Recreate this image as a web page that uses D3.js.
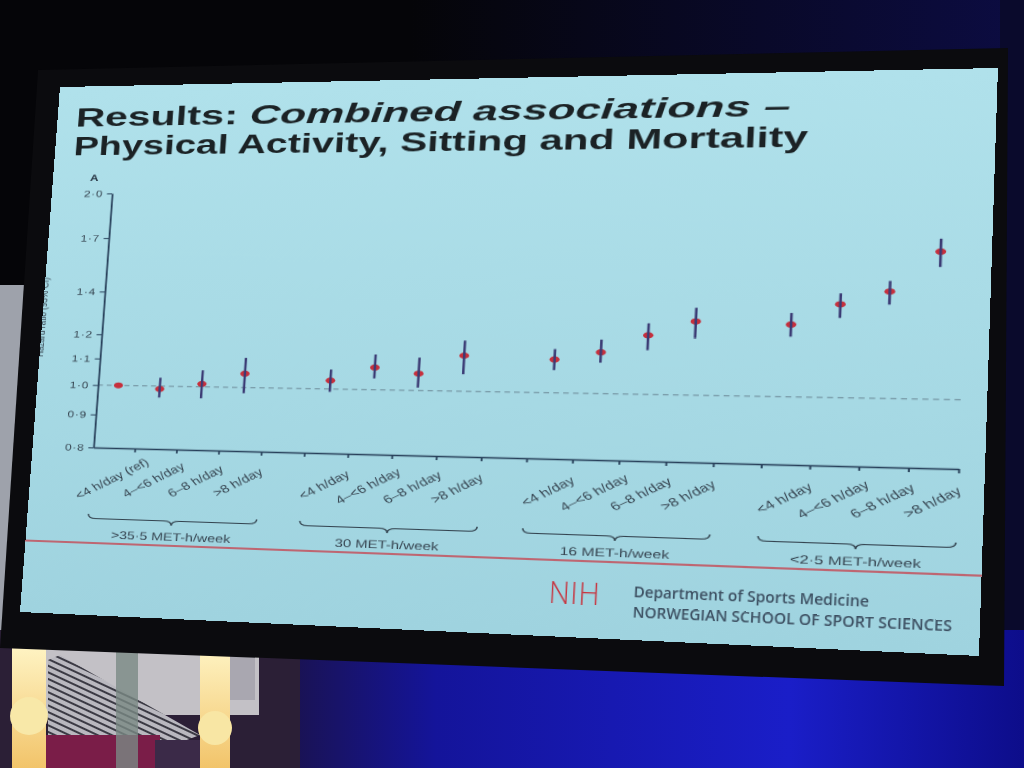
<!DOCTYPE html>
<html>
<head>
<meta charset="utf-8">
<script src="https://cdn.jsdelivr.net/npm/d3@7"></script>
<style>
  body { margin: 0; width: 1024px; height: 768px; overflow: hidden; background: #050508; position: relative; }
  #bg { position: absolute; left: 0; top: 0; }
  #slide { position: absolute; left: 0; top: 0; width: 960px; height: 540px; transform-origin: 0 0; overflow: hidden; }
</style>
</head>
<body>
<svg id="bg" width="1024" height="768"></svg>
<div id="slide"></div>
<script>
// values (hazard ratio and 95% CI)
var groupLabels = ['>35·5 MET-h/week', '30 MET-h/week', '16 MET-h/week', '<2·5 MET-h/week']
var sittingLabels = [
  '<4 h/day (ref)', '4–<6 h/day', '6–8 h/day', '>8 h/day',
  '<4 h/day', '4–<6 h/day', '6–8 h/day', '>8 h/day',
  '<4 h/day', '4–<6 h/day', '6–8 h/day', '>8 h/day',
  '<4 h/day', '4–<6 h/day', '6–8 h/day', '>8 h/day'
]
var hr     = [1.00, 0.99, 1.01, 1.05, 1.03, 1.08, 1.06, 1.13, 1.12, 1.15, 1.22, 1.28, 1.27, 1.36, 1.42, 1.62]
var ciLow  = [1.00, 0.96, 0.96, 0.98, 0.99, 1.04, 1.01, 1.06, 1.08, 1.11, 1.16, 1.21, 1.22, 1.30, 1.36, 1.54]
var ciHigh = [1.00, 1.03, 1.06, 1.11, 1.07, 1.13, 1.12, 1.19, 1.16, 1.20, 1.27, 1.34, 1.32, 1.41, 1.47, 1.69]
var yTicks = [0.8, 0.9, 1.0, 1.1, 1.2, 1.4, 1.7, 2.0]

// where the slide sits in the photo: TL, TR, BR, BL
var slideCorners = [[60, 87], [998, 68], [979, 656], [20, 612]]
var W = 960, H = 540
var SX = 1.4   // the chart picture on the slide is stretched sideways

var rows = hr.map(function(d, i){
  return {i: i, group: Math.floor(i / 4), label: sittingLabels[i], hr: d, lo: ciLow[i], hi: ciHigh[i]}
})

function slot(i){ return Math.floor(i / 4) * 5 + i % 4 }

function quadTransform(w, h, q){
  var x0 = q[0][0], y0 = q[0][1], x1 = q[1][0], y1 = q[1][1]
  var x2 = q[2][0], y2 = q[2][1], x3 = q[3][0], y3 = q[3][1]
  var dx1 = x1 - x2, dx2 = x3 - x2, dx3 = x0 - x1 + x2 - x3
  var dy1 = y1 - y2, dy2 = y3 - y2, dy3 = y0 - y1 + y2 - y3
  var den = dx1 * dy2 - dx2 * dy1
  var g = (dx3 * dy2 - dx2 * dy3) / den
  var k = (dx1 * dy3 - dx3 * dy1) / den
  var a = x1 - x0 + g * x1, b = x3 - x0 + k * x3
  var d = y1 - y0 + g * y1, e = y3 - y0 + k * y3
  return 'matrix3d(' + [a / w, d / w, 0, g / w, b / h, e / h, 0, k / h, 0, 0, 1, 0, x0, y0, 0, 1].join(',') + ')'
}

// ---- room around the screen
!(function(){
  var bg = d3.select('#bg')
  var defs = bg.append('defs')

  var blue = defs.append('linearGradient').attr('id', 'stage')
  blue.append('stop').attr('offset', '0%').attr('stop-color', '#1c1238')
  blue.append('stop').attr('offset', '25%').attr('stop-color', '#14149a')
  blue.append('stop').attr('offset', '70%').attr('stop-color', '#1a1ec8')
  blue.append('stop').attr('offset', '100%').attr('stop-color', '#0d0d8a')

  var navy = defs.append('linearGradient').attr('id', 'navy')
  navy.append('stop').attr('offset', '40%').attr('stop-color', '#050508')
  navy.append('stop').attr('offset', '100%').attr('stop-color', '#0c0c42')

  var lamp = defs.append('linearGradient').attr('id', 'lamp').attr('x1', 0).attr('x2', 0).attr('y1', 0).attr('y2', 1)
  lamp.append('stop').attr('offset', '0%').attr('stop-color', '#fff6c8')
  lamp.append('stop').attr('offset', '100%').attr('stop-color', '#f2c46a')

  var hatch = defs.append('pattern').attr('id', 'hatch').attr('width', 6).attr('height', 6)
    .attr('patternUnits', 'userSpaceOnUse').attr('patternTransform', 'rotate(25)')
  hatch.append('rect').attr('width', 6).attr('height', 6).attr('fill', '#b9b8bf')
  hatch.append('rect').attr('width', 6).attr('height', 2).attr('fill', '#3b3a44')

  bg.append('rect').attr('width', 1024).attr('height', 80).attr('fill', 'url(#navy)')
  bg.append('rect').attr('x', 1000).attr('width', 24).attr('height', 700).attr('fill', '#0a0a2c')
  bg.append('rect').attr('x', 0).attr('y', 285).attr('width', 30).attr('height', 345).attr('fill', '#9ea2ab')

  bg.append('rect').attr('x', 240).attr('y', 630).attr('width', 784).attr('height', 138).attr('fill', 'url(#stage)')

  // stage set, bottom left
  bg.append('rect').attr('x', 0).attr('y', 630).attr('width', 300).attr('height', 138).attr('fill', '#2b1f36')
  bg.append('rect').attr('x', 14).attr('y', 640).attr('width', 245).attr('height', 75).attr('fill', '#c3c1c6')
  bg.append('rect').attr('x', 225).attr('y', 640).attr('width', 30).attr('height', 60).attr('fill', '#a9a7b0')
  bg.append('polygon').attr('points', '48,660 60,655 200,735 160,750 48,750').attr('fill', 'url(#hatch)')
  bg.append('rect').attr('x', 40).attr('y', 735).attr('width', 120).attr('height', 33).attr('fill', '#7a1d48')
  bg.append('rect').attr('x', 116).attr('y', 640).attr('width', 22).attr('height', 128).attr('fill', '#7b8a85').attr('opacity', 0.8)
  bg.append('rect').attr('x', 155).attr('y', 740).attr('width', 45).attr('height', 28).attr('fill', '#3b2a48')
  bg.append('rect').attr('x', 12).attr('y', 640).attr('width', 34).attr('height', 128).attr('fill', 'url(#lamp)')
  bg.append('circle').attr('cx', 29).attr('cy', 716).attr('r', 19).attr('fill', '#f8e8a8')
  bg.append('rect').attr('x', 200).attr('y', 640).attr('width', 30).attr('height', 128).attr('fill', 'url(#lamp)')
  bg.append('circle').attr('cx', 215).attr('cy', 728).attr('r', 17).attr('fill', '#f8e6a4')

  // screen bezel
  bg.append('polygon').attr('points', '38,70 1008,48 1004,686 0,648').attr('fill', '#0b0b0e')
})()

// ---- the slide itself
d3.select('#slide').style('transform', quadTransform(W, H, slideCorners))

var svg = d3.select('#slide').append('svg').attr('width', W).attr('height', H)

var sg = svg.append('defs').append('linearGradient').attr('id', 'slidebg')
  .attr('x1', 0).attr('x2', 0).attr('y1', 0).attr('y2', 1)
sg.append('stop').attr('offset', '0%').attr('stop-color', '#b0e1eb')
sg.append('stop').attr('offset', '100%').attr('stop-color', '#9fd3df')
svg.append('rect').attr('width', W).attr('height', H).attr('fill', 'url(#slidebg)')

var title = svg.append('g')
  .style('font-family', 'Liberation Sans, Arial, sans-serif')
  .style('font-weight', 'bold')
  .style('font-size', '28px')
  .attr('fill', '#1b2225')
var t1 = title.append('text').attr('x', 21).attr('y', 42)
  .attr('textLength', 746).attr('lengthAdjust', 'spacingAndGlyphs')
t1.append('tspan').text('Results: ')
t1.append('tspan').style('font-style', 'italic').text('Combined associations –')
title.append('text').attr('x', 21).attr('y', 72)
  .attr('textLength', 764).attr('lengthAdjust', 'spacingAndGlyphs')
  .text('Physical Activity, Sitting and Mortality')

// ---- chart (drawn narrow, then stretched like the slide picture)
!(function(){
  var axisColor = '#28405a', textColor = '#364450'
  var left = 68 / SX, right = 936 / SX, top = 112, bottom = 372

  var g = svg.append('g').attr('transform', 'scale(' + SX + ',1)')
    .style('font-family', 'Liberation Sans, Arial, sans-serif')

  var y = d3.scaleLog().domain([0.8, 2.0]).range([bottom, top])
  var x = d3.scaleBand().domain(d3.range(19)).range([left, right])
  var xEdge = d3.scaleLinear().domain([0, 19]).range([left, right])
  var cx = function(d){ return x(slot(d.i)) + x.bandwidth() / 2 }

  g.append('text').attr('x', 30).attr('y', 99).text('A')
    .style('font-size', '9.5px').style('font-weight', 'bold').attr('fill', '#2b3a48')

  g.append('text').attr('transform', 'translate(' + (4 / SX) + ',' + 240 + ') rotate(-90)')
    .attr('text-anchor', 'middle').style('font-size', '8.5px').attr('fill', textColor)
    .text('Hazard ratio (95% CI)')

  g.append('line')
    .attr('x1', left).attr('x2', right).attr('y1', y(1)).attr('y2', y(1))
    .attr('stroke', '#6f8c99').attr('stroke-width', 1).attr('stroke-dasharray', '4,3')

  g.append('g').attr('transform', 'translate(' + left + ',0)')
    .call(d3.axisLeft(y).tickValues(yTicks).tickSize(4).tickSizeOuter(0).tickPadding(3)
      .tickFormat(function(d){ return d3.format('.1f')(d).replace('.', '·') }))
    .call(function(a){
      a.select('.domain').attr('stroke', axisColor).attr('stroke-width', 1.4)
      a.selectAll('line').attr('stroke', axisColor)
      a.selectAll('text').attr('fill', textColor).style('font-size', '9.5px').style('letter-spacing', '0.6px')
    })

  g.append('g').attr('transform', 'translate(0,' + bottom + ')')
    .call(d3.axisBottom(xEdge).tickValues(d3.range(1, 20)).tickSize(4).tickSizeOuter(0).tickFormat(''))
    .call(function(a){
      a.select('.domain').attr('stroke', axisColor).attr('stroke-width', 1.4)
      a.selectAll('line').attr('stroke', axisColor).attr('stroke-width', 1.3)
    })

  g.append('g').selectAll('text').data(rows).join('text')
    .attr('transform', function(d){ return 'translate(' + cx(d) + ',' + (bottom + 31) + ') rotate(-35)' })
    .attr('text-anchor', 'middle').attr('dy', '0.35em')
    .style('font-size', '11px').attr('fill', textColor)
    .text(function(d){ return d.label })

  g.append('g').selectAll('ellipse').data(rows).join('ellipse')
    .attr('cx', cx).attr('cy', function(d){ return y(d.hr) })
    .attr('rx', 3.6).attr('ry', 3)
    .attr('fill', '#c62f3c')

  g.append('g').selectAll('line').data(rows.filter(function(d){ return d.hi > d.lo })).join('line')
    .attr('x1', cx).attr('x2', cx)
    .attr('y1', function(d){ return y(d.lo) }).attr('y2', function(d){ return y(d.hi) })
    .attr('stroke', '#3b3b74').attr('stroke-width', 1.8)

  function brace(x0, x1, yb, h){
    var m = (x0 + x1) / 2, r = 6, ym = yb + h / 2
    return 'M' + x0 + ',' + yb + ' Q' + x0 + ',' + ym + ' ' + (x0 + r) + ',' + ym +
      ' L' + (m - r) + ',' + ym + ' Q' + m + ',' + ym + ' ' + m + ',' + (yb + h) +
      ' Q' + m + ',' + ym + ' ' + (m + r) + ',' + ym +
      ' L' + (x1 - r) + ',' + ym + ' Q' + x1 + ',' + ym + ' ' + x1 + ',' + yb
  }

  var grp = g.append('g').selectAll('g').data(groupLabels).join('g')
  grp.append('path')
    .attr('d', function(d, i){ return brace(x(i * 5), x(i * 5 + 3) + x.bandwidth(), 439, 9) })
    .attr('fill', 'none').attr('stroke', '#33434f').attr('stroke-width', 1.1)
  grp.append('text')
    .attr('x', function(d, i){ return (x(i * 5) + x(i * 5 + 3) + x.bandwidth()) / 2 })
    .attr('y', 463).attr('text-anchor', 'middle')
    .style('font-size', '11px').attr('fill', textColor)
    .text(function(d){ return d })
})()

// ---- slide template footer
svg.append('line').attr('x1', 0).attr('x2', W).attr('y1', 468).attr('y2', 468)
  .attr('stroke', '#c8404c').attr('stroke-width', 1.5)

svg.append('text').attr('x', 554).attr('y', 509).text('NIH')
  .attr('textLength', 50).attr('lengthAdjust', 'spacing')
  .style('font-family', 'Open Sans, sans-serif').style('font-weight', 300).style('font-size', '29px')
  .attr('fill', '#c7343f')

svg.append('text').attr('x', 637).attr('y', 500).text('Department of Sports Medicine')
  .attr('textLength', 222).attr('lengthAdjust', 'spacingAndGlyphs')
  .style('font-family', 'Open Sans, sans-serif').style('font-weight', 600).style('font-size', '15px')
  .attr('fill', '#3d5062')

svg.append('text').attr('x', 637).attr('y', 519).text('NORWEGIAN SCHOOL OF SPORT SCIENCES')
  .attr('textLength', 298).attr('lengthAdjust', 'spacingAndGlyphs')
  .style('font-family', 'Open Sans, sans-serif').style('font-weight', 600).style('font-size', '15px')
  .attr('fill', '#3d5062')
</script>
</body>
</html>
